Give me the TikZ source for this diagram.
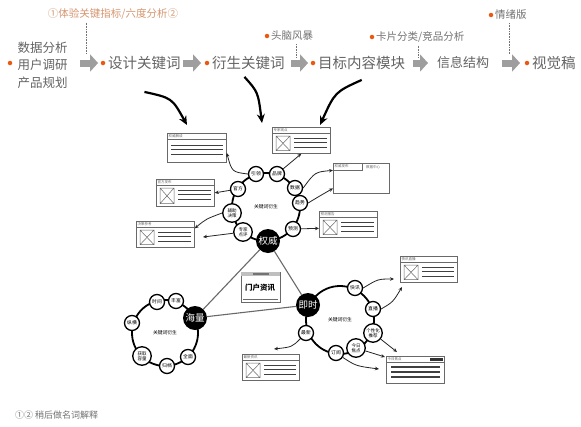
\documentclass[tikz,border=0pt]{standalone}
\usepackage{fontspec}
\setmainfont{Noto Sans CJK SC}
\usetikzlibrary{arrows.meta,positioning,calc}

\definecolor{flowgray}{RGB}{100,100,100}
\definecolor{arrowgray}{RGB}{158,158,158}
\definecolor{dotorange}{RGB}{236,88,16}
\definecolor{notegray}{RGB}{115,115,115}
\definecolor{notetan}{RGB}{214,150,112}
\definecolor{cardgray}{RGB}{105,105,105}
\definecolor{edgegray}{RGB}{105,105,105}

% wireframe card with picture placeholder
\newcommand{\imgcard}[5]{%
  \node[card, minimum width=#3, minimum height=#4, anchor=north west] (#1) at (#2) {};
  \draw[card rule] ([yshift=-6pt]#1.north west) -- ([yshift=-6pt]#1.north east);
  \node[card title, anchor=west] (#1-t) at ([xshift=1.5pt,yshift=-3pt]#1.north west) {#5};
  \draw[card rule] ([xshift=4pt,yshift=-9pt]#1.north west) rectangle ([xshift=18pt,yshift=3pt]#1.south west)
    ([xshift=4pt,yshift=-9pt]#1.north west) -- ([xshift=18pt,yshift=3pt]#1.south west)
    ([xshift=4pt,yshift=3pt]#1.south west) -- ([xshift=18pt,yshift=-9pt]#1.north west);
  \draw[card line] ([xshift=22pt,yshift=-11pt]#1.north west) -- ([xshift=-4pt,yshift=-11pt]#1.north east)
    ([xshift=22pt,yshift=-15.5pt]#1.north west) -- ([xshift=-4pt,yshift=-15.5pt]#1.north east)
    ([xshift=22pt,yshift=-20pt]#1.north west) -- ([xshift=-4pt,yshift=-20pt]#1.north east);
}
% wireframe card with text lines only
\newcommand{\textcard}[5]{%
  \node[card, minimum width=#3, minimum height=#4, anchor=north west] (#1) at (#2) {};
  \draw[card rule] ([yshift=-6pt]#1.north west) -- ([yshift=-6pt]#1.north east);
  \node[card title, anchor=west] (#1-t) at ([xshift=1.5pt,yshift=-3pt]#1.north west) {#5};
  \draw[card line] ([xshift=4pt,yshift=-12pt]#1.north west) -- ([xshift=-4pt,yshift=-12pt]#1.north east)
    ([xshift=4pt,yshift=-16.5pt]#1.north west) -- ([xshift=-4pt,yshift=-16.5pt]#1.north east)
    ([xshift=4pt,yshift=-21pt]#1.north west) -- ([xshift=-4pt,yshift=-21pt]#1.north east);
}

\begin{document}
\begin{tikzpicture}[x=1pt, y=-1pt,
    flow/.style={font=\fontsize{14.5}{16}\selectfont, text=flowgray, inner sep=0pt},
    flowleft/.style={font=\fontsize{12.5}{17.5}\selectfont, text=flowgray, inner sep=0pt, align=center},
    note/.style={font=\fontsize{10.5}{12}\selectfont, text=notegray, inner sep=0pt},
    odot/.style={circle, fill=dotorange, inner sep=0pt, minimum size=4.5pt},
    flowarrow/.style={line width=7pt, arrowgray, -{Triangle[length=8pt,width=17pt]}},
    dotline/.style={densely dotted, notegray, line width=0.6pt},
    bigarrow/.style={line width=2.2pt, black, -{Stealth[length=9pt,width=8pt]}},
    ring/.style={line width=1.8pt, black},
    kw/.style={circle, draw=black, line width=1.3pt, fill=white, minimum size=15pt,
               inner sep=0pt, font=\fontsize{4.8}{5.5}\selectfont, align=center},
    kwtwo/.style={kw, minimum size=18.5pt, font=\fontsize{4.5}{5}\selectfont},
    hub/.style={circle, fill=black, minimum size=24pt, inner sep=0pt, text=white,
                font=\fontsize{9.5}{10}\selectfont},
    ringlabel/.style={font=\fontsize{4.8}{5.5}\selectfont, inner sep=0pt},
    card/.style={draw=cardgray, line width=0.7pt, fill=white, inner sep=0pt},
    card rule/.style={draw=cardgray, line width=0.5pt},
    card line/.style={draw=black!75, line width=0.9pt},
    card title/.style={font=\fontsize{3.5}{4}\selectfont, text=black!60, inner sep=0pt},
    link/.style={line width=0.8pt, black!85, -{Stealth[length=4pt,width=3.5pt]}},
    edge/.style={line width=1.1pt, edgegray}
  ]
    \fill[white] (0,0) rectangle (581,426);
    \useasboundingbox (0,0) rectangle (581,426);

    % Process flow
    \node[odot] (d0) at (10,63) {};
    \node[flowleft] (s0) at (42.5,65) {数据分析\\用户调研\\产品规划};
    \node[odot] (d1) at (103,63) {};
    \node[flow, anchor=west] (s1) at (108,63) {设计关键词};
    \node[odot] (d2) at (207,63) {};
    \node[flow, anchor=west] (s2) at (212,63) {衍生关键词};
    \node[odot] (d3) at (313,63) {};
    \node[flow, anchor=west] (s3) at (318,63) {目标内容模块};
    \node[flow, anchor=west, font=\fontsize{13}{15}\selectfont] (s4) at (437,63) {信息结构};
    \node[odot] (d5) at (527,63) {};
    \node[flow, anchor=west] (s5) at (532,63) {视觉稿};

    \draw[flowarrow, shorten <=12.5pt, shorten >=2.5pt] (s0.east |- d1) -- (d1.west);
    \draw[flowarrow, shorten <=2.5pt, shorten >=3.5pt] (s1.east) -- (d2.west);
    \draw[flowarrow, shorten <=6.5pt, shorten >=2.5pt] (s2.east) -- (d3.west);
    \draw[flowarrow, shorten <=8pt, shorten >=9pt] (s3.east) -- (s4.west);
    \draw[flowarrow, shorten <=13pt, shorten >=4.5pt] (s4.east) -- (d5.west);

    % Methods above the flow
    \node[note, text=notetan] (n1) at (113,14) {①体验关键指标/六度分析②};
    \node[odot] (dn2) at (267,36) {};
    \node[note, anchor=west] (n2) at (271,36) {头脑风暴};
    \node[odot] (dn3) at (372,37) {};
    \node[note, anchor=west] (n3) at (376,37) {卡片分类/竞品分析};
    \node[odot] (dn4) at (491,15) {};
    \node[note, anchor=west] (n4) at (495,15) {情绪版};

    \coordinate (t1) at (86,54);
    \coordinate (t2) at (296,57);
    \coordinate (t3) at (418,58);
    \coordinate (t4) at (509,55);
    \draw[dotline, shorten <=3pt] (n1.south -| t1) -- (t1);
    \draw[dotline, shorten <=3pt] (n2.south -| t2) -- (t2);
    \draw[dotline, shorten <=3pt] (n3.south -| t3) -- (t3);
    \draw[dotline, shorten <=3pt] (n4.south -| t4) -- (t4);

    \node[note, anchor=west, font=\fontsize{9}{10}\selectfont] (foot) at (15,415) {①② 稍后做名词解释};

    % Big arrows down to the sketch
    \coordinate (a1) at (187,125);
    \coordinate (a2) at (262,123);
    \coordinate (a3) at (320,125);
    \draw[bigarrow] ([yshift=-22pt]s1.south) .. controls (172,98) .. (a1);
    \draw[bigarrow] ([xshift=-4pt,yshift=-7pt]s2.south) .. controls (258,92) .. (a2);
    \draw[bigarrow] ([yshift=-10pt]s3.south) .. controls (335,92) .. (a3);

    % Wireframe cards
    \textcard{bA}{167,133}{59pt}{29pt}{权威解读}
    \imgcard{bB}{272,127}{58pt}{26pt}{专家观点}
    \node[card, minimum width=56pt, minimum height=30pt, anchor=north west] (bC) at (333,163) {};
    \draw[card rule] (bC.north west) rectangle ([xshift=29pt,yshift=-7pt]bC.north west);
    \node[card title, anchor=west] (bC-t) at ([xshift=1.5pt,yshift=-3.5pt]bC.north west) {权威发布};
    \node[card title, anchor=west] (bC-r) at ([xshift=33pt,yshift=-4pt]bC.north west) {数据中心};
    \imgcard{bD}{319,211}{58pt}{26pt}{预测报告}
    \imgcard{bE}{156,179}{58pt}{27pt}{官方发布}
    \imgcard{bF}{136,221}{58pt}{26pt}{决策参考}
    \imgcard{bG}{400,256}{57pt}{26pt}{快讯直播}
    \imgcard{bI}{242,354}{57pt}{26pt}{最新资讯}
    \node[card, minimum width=58pt, minimum height=27pt, anchor=north west] (bH) at (386,356) {};
    \draw[card rule] ([yshift=-6pt]bH.north west) -- ([yshift=-6pt]bH.north east);
    \node[card title, anchor=west] (bH-t) at ([xshift=1.5pt,yshift=-3pt]bH.north west) {今日焦点};
    \fill[black!80] ([xshift=-15pt,yshift=-1.5pt]bH.north east) rectangle ([xshift=-2pt,yshift=-5pt]bH.north east);
    \draw[card line, line width=1.6pt] ([xshift=5pt,yshift=-11pt]bH.north west) -- ([xshift=-5pt,yshift=-11pt]bH.north east)
      ([xshift=5pt,yshift=-16pt]bH.north west) -- ([xshift=-5pt,yshift=-16pt]bH.north east)
      ([xshift=5pt,yshift=-21pt]bH.north west) -- ([xshift=-5pt,yshift=-21pt]bH.north east);

    % Portal
    \node[card, minimum width=39pt, minimum height=30pt] (mh) at (260.5,287) {};
    \fill[black!25] (mh.north west) rectangle ([yshift=-4pt]mh.north east);
    \fill[black!55] ([xshift=-8pt,yshift=-1pt]mh.north) rectangle ([xshift=8pt,yshift=-3pt]mh.north);
    \draw[card rule] ([xshift=2pt,yshift=3pt]mh.south west) -- ([xshift=-2pt,yshift=3pt]mh.south east);
    \node[font=\fontsize{7.5}{8}\selectfont\bfseries, inner sep=0pt] (mht) at (260,288) {门户资讯};

    % Ring: authority
    \coordinate (ra) at (266,207);
    \draw[ring] (ra) circle[radius=34];
    \node[ringlabel] (la) at (ra) {关键词衍生};
    \node[kw] (yl) at (256,174) {引领};
    \node[kw] (pp) at (277,174) {品牌};
    \node[kw] (sj) at (295,188) {数据};
    \node[kw] (qs) at (300,203) {趋势};
    \node[kw] (yc) at (293,229) {预测};
    \node[hub] (qw) at (268,241) {权威};
    \node[kwtwo] (zj) at (243,232) {专家\\点评};
    \node[kwtwo] (fz) at (232,213) {辅助\\决策};
    \node[kw] (gf) at (238,189) {官方};

    % Ring: mass
    \coordinate (rb) at (165,333);
    \draw[ring] (rb) circle[radius=33];
    \node[ringlabel] (lb) at (rb) {关键词衍生};
    \node[kw] (sjb) at (157,302) {时间};
    \node[kw] (ff) at (176,301) {丰富};
    \node[hub] (hl) at (195,318) {海量};
    \node[kw] (zh) at (132,323) {纵横};
    \node[kwtwo] (hq) at (142,356) {获取\\容量};
    \node[kw] (gd) at (167,366) {归档};
    \node[kw] (qm) at (188,357) {全面};

    % Ring: instant
    \coordinate (rc) at (340,320);
    \draw[ring] (rc) circle[radius=34];
    \node[ringlabel] (lc) at (rc) {关键词衍生};
    \node[kw] (kx) at (355,288) {快讯};
    \node[kw] (zb) at (373,309) {直播};
    \node[kwtwo] (gx) at (373,333) {个性化\\推荐};
    \node[kwtwo] (jr) at (356,348) {今日\\焦点};
    \node[kw] (dy) at (336,353) {订阅};
    \node[kw] (zx) at (306,333) {最新};
    \node[hub] (js) at (308,305) {即时};

    % Triangle between the three hubs
    \draw[edge] (qw) -- (hl);
    \draw[edge] (qw) -- (js);
    \draw[edge] (hl) -- (js);

    % Links to cards
    \draw[link] (yl.west) .. controls (232,172) .. ([yshift=-5pt]bA.east);
    \draw[link] (pp) -- (bB.south);
    \draw[link] (sj.east) .. controls (315,172) .. ([yshift=8pt]bC.west);
    \draw[link] (qs.east) .. controls (318,197) .. ([yshift=-10pt]bC.west);
    \draw[link] (yc) -- ([yshift=-4pt]bD.west);
    \draw[link] (gf) -- (bE.east);
    \draw[link] (fz.west) .. controls (206,219) .. ([yshift=6pt]bF.east);
    \coordinate (zjend) at (203,237);
    \draw[link] (zj) -- (zjend);

    \coordinate (kxend) at (394,279);
    \coordinate (zbend) at (402,287);
    \coordinate (gxend) at (397,352);
    \coordinate (jrend) at (385,357);
    \coordinate (dyend) at (379,369);
    \coordinate (zxend) at (274,349);
    \draw[link] (kx.east) .. controls (378,279) .. (kxend);
    \draw[link] (zb.east) .. controls (393,302) .. (zbend);
    \draw[link] (gx) -- (gxend);
    \draw[link] (jr) -- (jrend);
    \draw[link] (dy) .. controls (356,366) .. (dyend);
    \draw[link] (zx) .. controls (292,347) .. (zxend);
  \end{tikzpicture}
\end{document}
